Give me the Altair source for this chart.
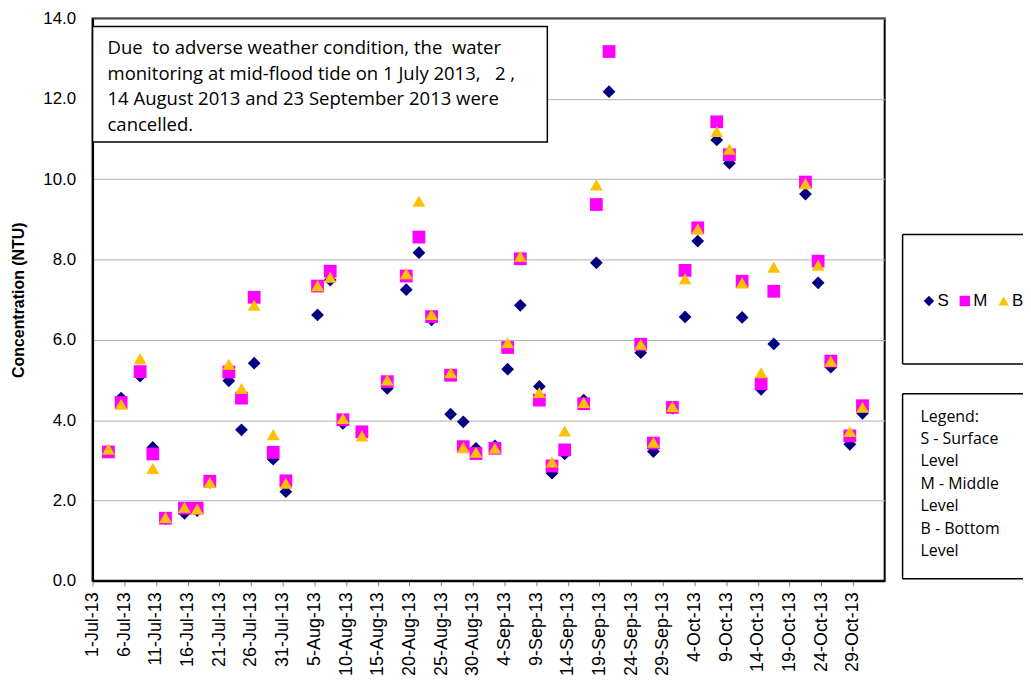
import altair as alt
import pandas as pd

# ---- data ----
dates = ["2013-07-03", "2013-07-05", "2013-07-08", "2013-07-10", "2013-07-12", "2013-07-15",
         "2013-07-17", "2013-07-19", "2013-07-22", "2013-07-24", "2013-07-26", "2013-07-29",
         "2013-07-31", "2013-08-05", "2013-08-07", "2013-08-09", "2013-08-12", "2013-08-16",
         "2013-08-19", "2013-08-21", "2013-08-23", "2013-08-26", "2013-08-28", "2013-08-30",
         "2013-09-02", "2013-09-04", "2013-09-06", "2013-09-09", "2013-09-11", "2013-09-13",
         "2013-09-16", "2013-09-18", "2013-09-20", "2013-09-25", "2013-09-27", "2013-09-30",
         "2013-10-02", "2013-10-04", "2013-10-07", "2013-10-09", "2013-10-11", "2013-10-14",
         "2013-10-16", "2013-10-21", "2013-10-23", "2013-10-25", "2013-10-28", "2013-10-30"]
S = [3.22, 4.55, 5.10, 3.32, 1.55, 1.68, 1.75, 2.45, 4.98, 3.76, 5.42, 3.03,
     2.22, 6.62, 7.49, 3.92, 3.65, 4.79, 7.25, 8.17, 6.50, 4.15, 3.96, 3.30,
     3.36, 5.27, 6.86, 4.84, 2.68, 3.16, 4.50, 7.92, 12.18, 5.68, 3.22, 4.30,
     6.57, 8.46, 10.98, 10.40, 6.56, 4.77, 5.90, 9.63, 7.42, 5.32, 3.40, 4.17]
M = [3.21, 4.44, 5.21, 3.16, 1.56, 1.81, 1.81, 2.48, 5.20, 4.55, 7.06, 3.20,
     2.49, 7.34, 7.71, 4.01, 3.71, 4.96, 7.59, 8.56, 6.58, 5.12, 3.34, 3.17,
     3.30, 5.81, 8.02, 4.50, 2.86, 3.26, 4.41, 9.37, 13.18, 5.89, 3.43, 4.32,
     7.73, 8.79, 11.43, 10.61, 7.46, 4.91, 7.21, 9.93, 7.96, 5.47, 3.61, 4.36]
B = [3.28, 4.40, 5.53, 2.80, 1.58, 1.83, 1.79, 2.45, 5.39, 4.79, 6.86, 3.64,
     2.43, 7.35, 7.56, 4.04, 3.61, 5.00, 7.65, 9.45, 6.63, 5.18, 3.32, 3.20,
     3.30, 5.93, 8.08, 4.69, 2.96, 3.73, 4.44, 9.86, None, 5.89, 3.45, 4.34,
     7.52, 8.76, 11.19, 10.75, 7.42, 5.18, 7.81, 9.89, 7.86, 5.47, 3.72, 4.32]

levels = ["S", "M", "B"]
level_colors = ["#000080", "#FF00FF", "#FFC000"]
level_shapes = ["diamond", "square", "triangle-up"]
x_tick_days = list(range(0, 121, 5))
y_ticks = [0, 2, 4, 6, 8, 10, 12, 14]

NB = "\u00a0"
note_lines = ["Due" + NB + " to adverse weather condition, the" + NB + " water",
              "monitoring at mid-flood tide on 1 July 2013," + NB + NB + " 2 ,",
              "14 August 2013 and 23 September 2013 were",
              "cancelled."]
legend_note_lines = ["Legend:", "S - Surface", "Level", "M - Middle", "Level",
                     "B - Bottom", "Level"]

start = pd.Timestamp("2013-07-01")
rows = []
for k, (lvl, vals) in enumerate(zip(levels, [S, M, B])):
    for d, v in zip(dates, vals):
        if v is None:
            continue
        rows.append({"Level": lvl, "ord": k,
                     "day": (pd.Timestamp(d) - start).days + 0.5, "value": v})
df = pd.DataFrame(rows)

W, H = 796, 565
FONT = "Liberation Sans"

legend_cfg = alt.Legend(orient="none", legendX=832, legendY=275, direction="horizontal",
                        title=None, labelFontSize=17, labelFont=FONT, labelColor="black",
                        symbolSize=110, labelOffset=0, columnPadding=7, padding=0,
                        symbolOpacity=1, symbolStrokeWidth=0)

points = alt.Chart(df).mark_point(filled=True, opacity=1, size=165, strokeWidth=0).encode(
    x=alt.X("day:Q", scale=alt.Scale(domain=[0, 125], nice=False, zero=False),
            axis=alt.Axis(values=x_tick_days,
                          labelExpr="timeFormat(datetime(2013, 6, 1 + datum.value), '%-d-%b-%y')",
                          labelAngle=270, labelAlign="right", labelBaseline="middle",
                          labelFontSize=18, labelFont=FONT, labelColor="black",
                          labelPadding=6, tickSize=5, tickColor="#808080",
                          grid=False, title=None, domainColor="black", domainWidth=2,
                          labelOverlap=False, labelBound=False)),
    y=alt.Y("value:Q", scale=alt.Scale(domain=[0, 14], nice=False, zero=True),
            axis=alt.Axis(values=y_ticks, format=".1f", labelFontSize=17, labelFont=FONT,
                          labelColor="black", ticks=False, labelPadding=17,
                          grid=True, gridColor="#b0b0b0", gridWidth=1,
                          domainColor="black", domainWidth=2,
                          title="Concentration (NTU)", titleFont=FONT, titleFontSize=16,
                          titleFontWeight="bold", titleColor="black", titlePadding=16)),
    color=alt.Color("Level:N", scale=alt.Scale(domain=levels, range=level_colors),
                    legend=legend_cfg),
    shape=alt.Shape("Level:N", scale=alt.Scale(domain=levels, range=level_shapes),
                    legend=legend_cfg),
    order=alt.Order("ord:Q"),
)

one = pd.DataFrame({"k": [0]})

# top-left note box
note_box = alt.Chart(one).mark_rect(fill="white", stroke="black", strokeWidth=1.5).encode(
    x=alt.value(0), x2=alt.value(457), y=alt.value(8), y2=alt.value(124))
note_text = alt.Chart(one).mark_text(align="left", baseline="middle", font="Open Sans",
                                     fontSize=18.6, lineHeight=25.5, color="black").encode(
    x=alt.value(15), y=alt.value(30), text=alt.value(note_lines))

# right legend boxes (open on the right, cut by the page edge)
def open_box(x0, x1, y0, y1):
    top = alt.Chart(one).mark_rule(color="black", strokeWidth=1.5).encode(
        x=alt.value(x0), x2=alt.value(x1), y=alt.value(y0))
    bot = alt.Chart(one).mark_rule(color="black", strokeWidth=1.5).encode(
        x=alt.value(x0), x2=alt.value(x1), y=alt.value(y1))
    left = alt.Chart(one).mark_rule(color="black", strokeWidth=1.5).encode(
        x=alt.value(x0), y=alt.value(y0), y2=alt.value(y1))
    return top + bot + left

legend_box = open_box(814, 950, 217, 347)
legend_note_box = open_box(814, 950, 377, 563)
legend_note_text = alt.Chart(one).mark_text(align="left", baseline="middle", font="Open Sans",
                                            fontSize=16, lineHeight=22.5, color="black").encode(
    x=alt.value(832), y=alt.value(400), text=alt.value(legend_note_lines))

chart = alt.layer(points, note_box, note_text, legend_box, legend_note_box,
                  legend_note_text).properties(
    width=W, height=H, background="white",
    autosize=alt.AutoSizeParams(type="none"),
    padding={"left": 85, "top": 9, "right": 139, "bottom": 96},
).configure_view(stroke="black", strokeWidth=2)

chart.save("out.html", embed_options={"renderer": "svg", "actions": False})
